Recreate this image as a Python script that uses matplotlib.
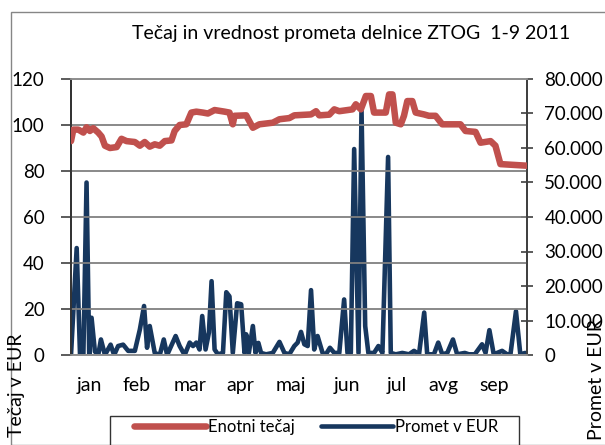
import numpy as np
import matplotlib
matplotlib.use("Agg")
import matplotlib.pyplot as plt
from matplotlib.patches import Rectangle

plt.rcParams['font.family'] = ['Lato', 'DejaVu Sans']

# Enotni tecaj (dan v letu, vrednost)
tecaj_dan = [0, 1.4, 4.4, 7.4, 9.3, 11.3, 13.3, 16.3, 18.3, 20.3, 23.3, 27.3, 30.2, 33.2,
             38.2, 41.2, 44.1, 47.1, 50.1, 53.1, 56.1, 60.1, 62, 65, 69, 72, 75, 78.9,
             81.9, 85.9, 91.9, 94.8, 96.8, 97.8, 104.8, 108.8, 112.7, 120.7, 124.7, 130.6,
             133.6, 143.6, 146.6, 148.5, 154.5, 157.5, 160.5, 168.4, 170.4, 173.4, 176.4,
             179.4, 181.3, 188.3, 190.3, 192.3, 194.3, 197.3, 199.2, 201.2, 204.2, 206.2,
             211.2, 214.1, 218.1, 222.1, 233, 236, 242, 245, 251, 253.9, 256.9, 272.8]
tecaj = [93, 98, 98, 96.7, 99, 97.4, 98.6, 96.7, 95, 91, 90, 90.4, 94, 93,
         92.6, 91, 92.6, 90.6, 91.6, 91, 93, 93.3, 97.4, 100, 100.3, 105.4, 105.8, 105.4,
         105, 106.5, 105.8, 105.4, 100.3, 104, 104.2, 98.8, 100.3, 101, 102.5, 103,
         104.2, 104.6, 106, 104.2, 104.5, 106.8, 106, 106.8, 109, 106.8, 112.6,
         112.6, 105.4, 105.4, 113.3, 113.3, 101, 100.3, 104, 110.4, 110.4, 105.4,
         104.6, 104, 104, 100.3, 100.3, 97.4, 97, 92.3, 93, 91, 83, 82.3]

# Promet v EUR (dan v letu, vrednost)
promet_dan = [0, 3.4, 5.4, 7.4, 9.3, 10.9, 12.3, 14.3, 16.3, 17.9, 20.3, 23.7, 25.8, 28.2,
              31.2, 34.2, 38.2, 41.2, 43.7, 45.5, 47.1, 50.1, 53.1, 55.5, 57.5, 60.1, 62.6,
              65, 68, 71, 73, 75, 76.9, 78.5, 80.5, 82.5, 84.1, 85.9, 87.9, 90.9, 92.9,
              94.8, 96.8, 99.4, 101.8, 103.8, 104.8, 106.4, 108.8, 110.4, 112.1, 113.7,
              116.7, 120.7, 124.7, 127.7, 130.6, 133.6, 135.6, 137.6, 139.6, 141.6, 143.6,
              145.5, 147.5, 150.5, 152.5, 154.9, 157.5, 160.5, 163.4, 165.4, 167.4, 169.4,
              172, 173.8, 176, 177.9, 181.3, 183.9, 186.3, 189.7, 191.3, 194.3, 198.2,
              202.2, 205.2, 208.2, 211.3, 213.1, 217.1, 219.7, 222.1, 225.1, 228.5, 231,
              235.6, 238, 241.6, 245.9, 248, 250.3, 252.9, 257.9, 260.9, 262.9, 266.2,
              268.8, 271.8]
promet = [0, 31000, 0, 0, 50000, 0, 10800, 1000, 0, 4500, 0, 3000, 0, 2600,
          3000, 1200, 1200, 7400, 14200, 2100, 8400, 600, 0, 4500, 0, 2800, 5500,
          2600, 0, 3600, 2600, 3600, 1600, 11300, 1600, 6500, 21400, 1600, 200, 600, 18200,
          17000, 600, 15000, 14700, 600, 6000, 600, 8400, 600, 3500, 600,
          200, 600, 3800, 600, 200, 2600, 3600, 6700, 3100, 2600, 18800,
          1600, 5500, 600, 200, 2100, 600, 600, 16100, 600, 600, 59700,
          600, 71100, 8400, 600, 600, 2600, 600, 57400, 600, 200, 600,
          200, 1200, 200, 12300, 200, 200, 3600, 200, 600, 4500, 200,
          600, 200, 200, 3100, 600, 7200, 200, 1200, 200, 200, 12700,
          200, 600]

meseci = ['jan', 'feb', 'mar', 'apr', 'maj', 'jun', 'jul', 'avg', 'sep']
meseci_poz = [10.7, 39.4, 71, 101.4, 131.7, 165.2, 195.1, 222.6, 252.9]

rdeca = '#C0504D'
modra = '#17375E'

fig = plt.figure(figsize=(6.05, 4.45), dpi=100)
W, H = 605, 445

# okvir grafikona
fig.patches.append(Rectangle((11 / W, 0), 1, 1 - 12 / H, transform=fig.transFigure,
                             fill=False, edgecolor='#868686', lw=1.0))
# okvir legende
fig.patches.append(Rectangle((110 / W, -0.1), 409 / W, 0.1 + 1 - 416 / H,
                             transform=fig.transFigure, fill=False,
                             edgecolor='#333333', lw=1.0))

ax = fig.add_axes([71 / W, 1 - 355 / H, 456 / W, 276 / H])
ax2 = ax.twinx()

ax.plot(tecaj_dan, tecaj, color=rdeca, lw=4.7, solid_joinstyle='round',
        solid_capstyle='round', label='Enotni tečaj', zorder=3)
ax2.plot(promet_dan, promet, color=modra, lw=3.3, solid_joinstyle='round',
         solid_capstyle='round', label='Promet v EUR', zorder=3)

ax.set_xlim(0, 272.8)
ax.set_ylim(0, 120)
ax2.set_ylim(0, 80000)
ax.set_yticks(range(0, 121, 20))
ax2.set_yticks(range(0, 80001, 10000))
ax2.set_yticklabels(['0' if v == 0 else f'{v // 1000}.000' for v in range(0, 80001, 10000)])

ax.set_xticks(meseci_poz)
ax.set_xticklabels(meseci)
ax.tick_params(axis='x', length=0, pad=16, labelsize=14)
ax.tick_params(axis='y', direction='out', length=7, width=1.2, color='#404040', labelsize=13.5, pad=12)
ax2.tick_params(axis='y', direction='inout', length=9, width=1.2, color='#404040', labelsize=13.5, pad=8)
for lbl in ax2.get_yticklabels():
    lbl.set_horizontalalignment('left')

ax.grid(axis='y', color='#808080', lw=1.3)
ax.set_axisbelow(True)
for a in (ax, ax2):
    a.spines['top'].set_color('#909090')
    a.spines['bottom'].set_color('#909090')
    a.spines['left'].set_color('#333333')
    a.spines['right'].set_color('#404040')
    for s in a.spines.values():
        s.set_linewidth(1.3)
ax.patch.set_visible(False)
ax.set_zorder(ax2.get_zorder() + 1)

fig.text(351 / W, 1 - 33 / H, 'Tečaj in vrednost prometa delnice ZTOG  1-9 2011',
         ha='center', va='center', fontsize=14)
fig.text(17 / W, 1 - 385 / H, 'Tečaj v EUR', rotation=90, ha='center', va='center', fontsize=14)
fig.text(597 / W, 1 - 380 / H, 'Promet v EUR', rotation=90, ha='center', va='center', fontsize=14)

h1, l1 = ax.get_legend_handles_labels()
h2, l2 = ax2.get_legend_handles_labels()
leg = fig.legend(h1 + h2, l1 + l2, loc='upper left', ncol=2,
                 bbox_to_anchor=(134 / W, 1 - 419 / H),
                 frameon=False, fontsize=12,
                 handlelength=4.3, handletextpad=0.12, borderpad=0, columnspacing=1.6,
                 borderaxespad=0)

fig.savefig('out.png', dpi=100)
